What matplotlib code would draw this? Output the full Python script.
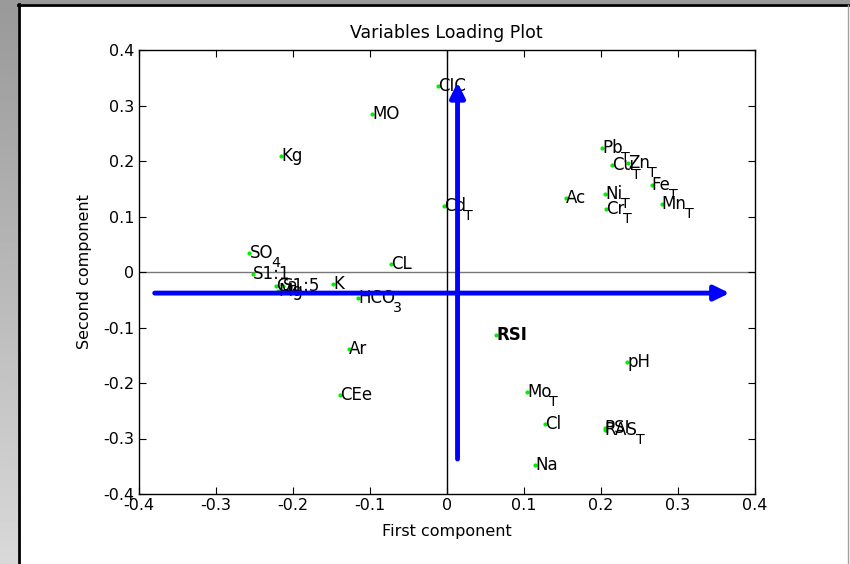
import numpy as np
import matplotlib
matplotlib.use("Agg")
import matplotlib.pyplot as plt
from matplotlib.patches import Rectangle
from matplotlib.lines import Line2D

plt.rcParams["font.family"] = ["DejaVu Sans"]

# loadings on the first two components ("_" marks a subscript)
labels = ["CIC", "MO", "Kg", "Cd_T", "SO_4", "S1:1", "Ca", "Mg",
          "S1:5", "K", "HCO_3", "CL", "Ar", "CEe", "RSI", "Mo_T",
          "Cl", "PSI", "RAS_T", "Na", "pH", "Ac", "Pb_T",
          "Cu_T", "Zn_T", "Fe_T", "Mn_T",
          "Ni_T", "Cr_T"]
pc1 = [-0.011, -0.097, -0.215, -0.003, -0.256, -0.251, -0.221, -0.219,
       -0.213, -0.147, -0.115, -0.072, -0.127, -0.139, 0.064, 0.104,
       0.128, 0.205, 0.205, 0.115, 0.234, 0.155, 0.202,
       0.215, 0.235, 0.266, 0.279,
       0.206, 0.207]
pc2 = [0.335, 0.285, 0.209, 0.119, 0.034, -0.004, -0.025, -0.034,
       -0.026, -0.022, -0.046, 0.014, -0.139, -0.221, -0.114, -0.217,
       -0.274, -0.281, -0.285, -0.347, -0.163, 0.133, 0.223,
       0.193, 0.197, 0.156, 0.123,
       0.141, 0.113]
bold_labels = ["RSI"]

# direction arrows (tail -> tip)
h_arrow_x = [-0.379, 0.367]
h_arrow_y = [-0.038, -0.038]
v_arrow_x = [0.014, 0.014]
v_arrow_y = [-0.337, 0.342]

fig = plt.figure(figsize=(8.5, 5.64), dpi=100)
W, H = 850, 564

# window frame around the figure
grad = np.linspace(0.6, 0.85, 256).reshape(-1, 1)
bax = fig.add_axes([0, 0, 18 / W, 1])
bax.imshow(grad, cmap="gray", vmin=0, vmax=1, aspect="auto")
bax.axis("off")
fig.add_artist(Rectangle((0, 1 - 4 / H), 1, 4 / H, transform=fig.transFigure,
                         facecolor="#9a9a9a", edgecolor="none"))
fig.add_artist(Line2D([19 / W, 19 / W], [0, 1 - 4 / H], transform=fig.transFigure,
                      color="black", lw=2))
fig.add_artist(Line2D([18 / W, 1], [1 - 5 / H, 1 - 5 / H], transform=fig.transFigure,
                      color="black", lw=2))
fig.add_artist(Line2D([848 / W, 848 / W], [0, 1 - 5 / H], transform=fig.transFigure,
                      color="#a0a0a0", lw=1))

ax = fig.add_axes([138.5 / W, 70 / H, 616.5 / W, 444 / H])
ax.set_xlim(-0.4, 0.4)
ax.set_ylim(-0.4, 0.4)
ticks = np.arange(-0.4, 0.41, 0.1)
tick_text = ["-0.4", "-0.3", "-0.2", "-0.1", "0", "0.1", "0.2", "0.3", "0.4"]
ax.set_xticks(ticks)
ax.set_yticks(ticks)
ax.set_xticklabels(tick_text)
ax.set_yticklabels(tick_text)
ax.tick_params(direction="in", length=5, width=0.8, top=True, right=True,
               labelsize=11.5, pad=3)
for s in ax.spines.values():
    s.set_linewidth(1.0)

ax.axhline(0, color="#777777", lw=1, zorder=1)
ax.axvline(0, color="black", lw=1, zorder=1)

ax.plot(pc1, pc2, ".", color="#00ee00", markersize=4, zorder=3)
label_size = 12
for lab, x, y in zip(labels, pc1, pc2):
    base, _, sub = lab.partition("_")
    t = ax.text(x, y, base, ha="left", va="center", fontsize=label_size,
                fontweight="bold" if lab in bold_labels else "normal", zorder=4)
    if sub:
        # subscript hangs just below the baseline, right after the base text
        ax.annotate(sub, xy=(1, 0.33), xycoords=t, xytext=(-1.5, 0),
                    textcoords="offset points", ha="left", va="top",
                    fontsize=label_size * 0.85, zorder=4)

arrow_props = dict(arrowstyle="-|>,head_length=0.45,head_width=0.22", color="blue",
                   lw=3.5, mutation_scale=20, shrinkA=0, shrinkB=0)
ax.annotate("", xy=(h_arrow_x[1], h_arrow_y[1]), xytext=(h_arrow_x[0], h_arrow_y[0]),
            arrowprops=arrow_props, zorder=5)
ax.annotate("", xy=(v_arrow_x[1], v_arrow_y[1]), xytext=(v_arrow_x[0], v_arrow_y[0]),
            arrowprops=arrow_props, zorder=5)

ax.set_title("Variables Loading Plot", fontsize=12.5, pad=9)
ax.set_xlabel("First component", fontsize=11.5, labelpad=8)
ax.set_ylabel("Second component", fontsize=11.5, labelpad=8)

fig.savefig("out.png", dpi=100)
